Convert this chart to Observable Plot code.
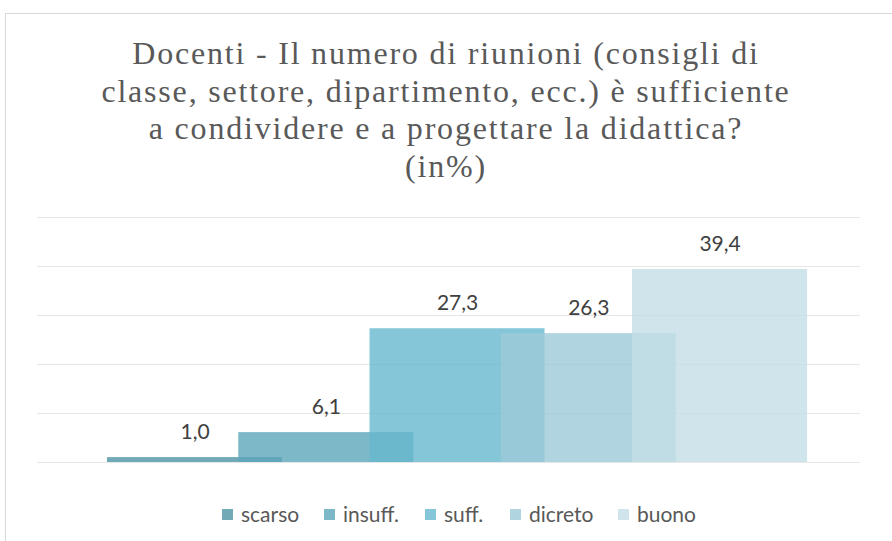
<!DOCTYPE html>
<html>
<head>
<meta charset="utf-8">
<script src="https://cdn.jsdelivr.net/npm/d3@7"></script>
<script src="https://cdn.jsdelivr.net/npm/@observablehq/plot@0.6"></script>
<style>
  html, body { margin: 0; padding: 0; background: #fff; }
  #wrap { position: relative; width: 892px; height: 541px; overflow: hidden; }
  #frame { position: absolute; left: 5px; top: 13px; width: 900px; height: 600px; border: 1px solid #d9d9d9; box-sizing: border-box; }
  #title { position: absolute; left: 0; top: 35px; width: 892px; text-align: center;
    font-family: "Liberation Serif", serif; font-size: 32px; line-height: 37.5px; letter-spacing: 1.8px; color: #595959; }
  #chart { position: absolute; left: 0; top: 0; }
  #legend { position: absolute; left: 0; top: 502px; width: 892px; height: 24px; font-family: Lato, "Open Sans", sans-serif; font-size: 21px; color: #595959; }
  .item { position: absolute; top: 0; height: 24px; line-height: 24px; white-space: nowrap; }
  .sw { position: absolute; left: 0; top: 7px; width: 11px; height: 11px; }
  .lab { position: absolute; left: 19px; top: 0; }
</style>
</head>
<body>
<div id="wrap">
  <div id="frame"></div>
  <div id="chart"></div>
  <div id="title">Docenti - Il numero di riunioni (consigli di<br>classe, settore, dipartimento, ecc.) è sufficiente<br>a condividere e a progettare la didattica?<br>(in%)</div>
  <div id="legend"></div>
</div>
<script>
const categories = ["scarso", "insuff.", "suff.", "dicreto", "buono"];
const values = [1.0, 6.1, 27.3, 26.3, 39.4];
const colors = ["#4f94a5", "#5ca6ba", "#66b8ce", "#9cc9d8", "#c4dde6"];
const yTicks = [0, 10, 20, 30, 40, 50];
const legendX = [222, 324, 425, 510, 618];

const halfWidth = 0.6667;
const data = categories.map((c, i) => ({cat: c, i, v: values[i], x1: i - halfWidth, x2: i + halfWidth}));
const fmt = v => v.toFixed(1).replace(".", ",");

const plot = Plot.plot({
  width: 892,
  height: 480,
  marginLeft: 37,
  marginRight: 32,
  marginTop: 217,
  marginBottom: 18,
  x: {type: "linear", domain: [-1.2, 5.07], axis: null},
  y: {domain: [0, 50], axis: null},
  color: {domain: categories, range: colors},
  style: {background: "transparent", overflow: "visible"},
  marks: [
    Plot.ruleY(yTicks, {stroke: "#e6e6e6", strokeWidth: 1}),
    Plot.rectY(data, {x1: "x1", x2: "x2", y1: 0, y2: "v", fill: "cat", fillOpacity: 0.8}),
    Plot.text(data, {x: "i", y: "v", text: d => fmt(d.v), dy: -25, fill: "#404040",
      fontSize: 21, fontFamily: "Lato, 'Open Sans', sans-serif", lineAnchor: "middle"})
  ]
});
document.getElementById("chart").appendChild(plot);

const legend = document.getElementById("legend");
categories.forEach((c, i) => {
  const item = document.createElement("div");
  item.className = "item";
  item.style.left = legendX[i] + "px";
  const sw = document.createElement("div");
  sw.className = "sw";
  sw.style.background = colors[i];
  sw.style.opacity = 0.8;
  const lab = document.createElement("div");
  lab.className = "lab";
  lab.textContent = c;
  item.appendChild(sw); item.appendChild(lab);
  legend.appendChild(item);
});
</script>
</body>
</html>
